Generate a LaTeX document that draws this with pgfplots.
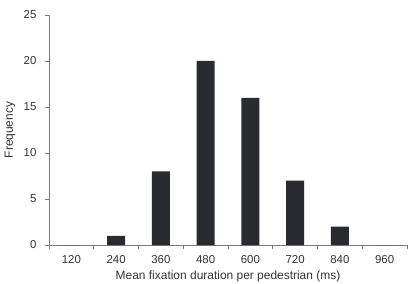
\documentclass[border=0pt]{standalone}
\usepackage{pgfplots}
\pgfplotsset{compat=1.18}
\usepackage{fontspec}
\setmainfont{Liberation Sans}
\definecolor{barc}{HTML}{2A2B30}
\definecolor{axc}{HTML}{7A7A7A}
\definecolor{txt}{HTML}{333333}
\begin{document}
\begin{tikzpicture}
\begin{axis}[
  at={(0,0)}, anchor=south west,
  scale only axis,
  width=358bp, height=230bp,
  xmin=0, xmax=8, ymin=0, ymax=25,
  axis x line=bottom, axis y line=left,
  axis line style={axc, line width=0.8pt, -},
  ytick={0,5,...,25},
  xtick={0,1,...,8}, xticklabels={},
  extra x ticks={0.5,1.5,...,7.5},
  extra x tick labels={120,240,360,480,600,720,840,960},
  extra x tick style={major tick length=0pt},
  tick style={axc, line width=0.8pt},
  major tick length=4bp,
  tick align=outside,
  ticklabel style={font=\fontsize{11.5}{13}\selectfont, text=txt},
  yticklabel style={anchor=east, xshift=-5bp},
  xticklabel style={anchor=north, yshift=-7bp},
  /pgf/number format/assume math mode=true,
  xlabel={Mean fixation duration per pedestrian (ms)},
  ylabel={Frequency},
  label style={font=\fontsize{12}{14}\selectfont, text=txt},
  xlabel style={at={(axis description cs:0.5,0)}, anchor=north, yshift=-22bp},
  ylabel style={at={(axis description cs:0,0.5)}, anchor=center, yshift=39bp},
  ybar, bar width=18bp,
]
\addplot[fill=barc, draw=none] coordinates {(0.5,0) (1.5,1) (2.5,8) (3.5,20) (4.5,16) (5.5,7) (6.5,2) (7.5,0)};
\end{axis}
\pgfresetboundingbox
\path (-49bp,-39bp) rectangle (361bp,245bp);
\end{tikzpicture}
\end{document}
